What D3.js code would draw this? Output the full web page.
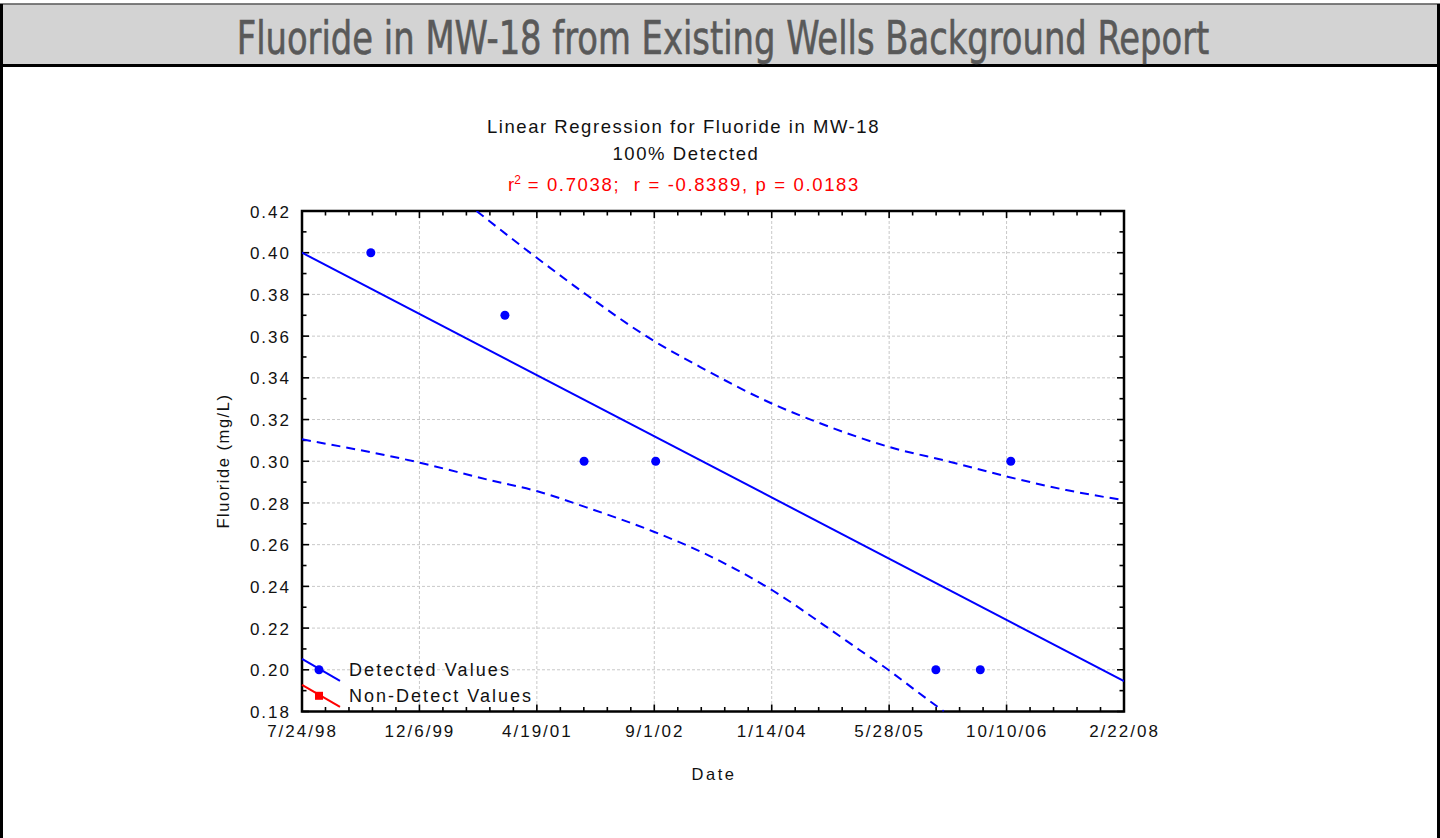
<!DOCTYPE html>
<html>
<head>
<meta charset="utf-8">
<script src="https://cdn.jsdelivr.net/npm/d3@7"></script>
<style>
  body { margin: 0; background: #fff; }
  svg text { font-family: "Liberation Sans", Arial, sans-serif; }
</style>
</head>
<body>
<div id="chart-area"></div>
<script>
// data
let sampleDates = ["5/13/99", "12/4/00", "11/6/01", "9/7/02", "12/13/05", "6/20/06", "10/28/06"];
let fluoride = [0.40, 0.37, 0.30, 0.30, 0.20, 0.20, 0.30];

// fitted line ends (date, mg/L)
let fitDates = ["7/24/98", "2/22/08"];
let fitValues = [0.400, 0.1946];

// confidence band, days after 7/24/98 and mg/L
let upperDays = [743, 984, 1197, 1481, 1694, 2006, 2190, 2505, 2757, 3004, 3254, 3495];
let upperValues = [0.420, 0.3989, 0.3810, 0.3589, 0.3453, 0.3274, 0.3189, 0.3067, 0.2998, 0.2926, 0.2862, 0.2814];
let lowerDays = [0, 502, 786, 999, 1211, 1498, 1708, 2006, 2233, 2374, 2502, 2601, 2733];
let lowerValues = [0.3105, 0.2993, 0.2913, 0.2857, 0.2779, 0.2662, 0.2561, 0.2379, 0.2206, 0.2095, 0.1995, 0.1911, 0.180];

let xTickLabels = ["7/24/98", "12/6/99", "4/19/01", "9/1/02", "1/14/04", "5/28/05", "10/10/06", "2/22/08"];
let yTicks = [0.18, 0.20, 0.22, 0.24, 0.26, 0.28, 0.30, 0.32, 0.34, 0.36, 0.38, 0.40, 0.42];

let legendLabels = ["Detected Values", "Non-Detect Values"];
let legendColors = ["#0000ff", "#ff0000"];

let parseDate = d3.utcParse("%m/%d/%y");
let fmtDate = d3.utcFormat("%-m/%-d/%y");
let startDate = parseDate(xTickLabels[0]);

let W = 1440, H = 838;
let margin = { left: 302, top: 211, right: 316, bottom: 126.5 };
let width = W - margin.left - margin.right;
let height = H - margin.top - margin.bottom;

// spread letters so a text takes the width seen in the reference
function fitWidth(sel, target){
	let w = sel.node().getComputedTextLength();
	let n = sel.text().length;
	sel.attr("letter-spacing", ((target - w) / n) + "px");
}

let svg = d3.select("#chart-area")
	.append("svg")
	.attr("width", W)
	.attr("height", H);

// page frame and heading bar
svg.append("rect")
	.attr("x", 1.5).attr("y", 5)
	.attr("width", W - 3).attr("height", H + 20)
	.attr("fill", "#fff")
	.attr("stroke", "#000")
	.attr("stroke-width", 3);

svg.append("rect")
	.attr("x", 1.5).attr("y", 4.5)
	.attr("width", W - 3).attr("height", 60)
	.attr("fill", "#d3d3d3");

svg.append("line")
	.attr("x1", 0).attr("x2", W)
	.attr("y1", 4.5).attr("y2", 4.5)
	.attr("stroke", "#777").attr("stroke-width", 1);

svg.append("line")
	.attr("x1", 0).attr("x2", W)
	.attr("y1", 65.5).attr("y2", 65.5)
	.attr("stroke", "#000").attr("stroke-width", 3);

svg.append("line")
	.attr("x1", 1.5).attr("x2", 1.5)
	.attr("y1", 4).attr("y2", H)
	.attr("stroke", "#000").attr("stroke-width", 3);
svg.append("line")
	.attr("x1", W - 1.5).attr("x2", W - 1.5)
	.attr("y1", 4).attr("y2", H)
	.attr("stroke", "#000").attr("stroke-width", 3);

let titleG = svg.append("g").attr("transform", "translate(723, 54)");
let title = titleG.append("text")
	.attr("text-anchor", "middle")
	.attr("font-size", "47px")
	.attr("fill", "#595959")
	.attr("stroke", "#595959")
	.attr("stroke-width", 0.6)
	.style("font-family", "'Liberation Sans Narrow', 'DejaVu Sans Condensed', sans-serif")
	.text("Fluoride in MW-18 from Existing Wells Background Report");
let titleW = title.node().getComputedTextLength();
title.attr("transform", "scale(" + (973 / titleW) + ", 1)");

// chart headings
let head1 = svg.append("text")
	.attr("x", 683.5).attr("y", 133)
	.attr("text-anchor", "middle")
	.attr("font-size", "18.5px")
	.attr("fill", "#111")
	.text("Linear Regression for Fluoride in MW-18");
fitWidth(head1, 393);

let head2 = svg.append("text")
	.attr("x", 686).attr("y", 160)
	.attr("text-anchor", "middle")
	.attr("font-size", "18.5px")
	.attr("fill", "#111")
	.text("100% Detected");
fitWidth(head2, 147);

let stats = svg.append("text")
	.attr("x", 508).attr("y", 191)
	.attr("font-size", "18.5px")
	.attr("fill", "#ff0000")
	.style("white-space", "pre");
stats.append("tspan").text("r");
stats.append("tspan").attr("font-size", "12px").attr("dy", -7.5).text("2");
let statsRest = stats.append("tspan").attr("dy", 7.5).text(" = 0.7038;  r = -0.8389, p = 0.0183");
let statsW = stats.node().getComputedTextLength();
statsRest.attr("letter-spacing", ((352 - statsW) / statsRest.text().length) + "px");

let g = svg.append("g")
	.attr("transform", `translate(${margin.left}, ${margin.top})`);

let xScale = d3.scaleUtc()
	.domain([parseDate(xTickLabels[0]), parseDate(xTickLabels[xTickLabels.length - 1])])
	.range([0, width]);

let yScale = d3.scaleLinear()
	.domain([yTicks[0], yTicks[yTicks.length - 1]])
	.range([height, 0]);

let xTickDates = xTickLabels.map(parseDate);
let xMinor = d3.range(0, 3501, 100).map(function(d){ return d3.utcDay.offset(startDate, d); });
let yMinor = d3.range(0, 25).map(function(i){ return yTicks[0] + i * 0.01; });

// grid
g.append("g").selectAll("line")
	.data(xTickDates)
	.enter().append("line")
	.attr("x1", function(d){ return xScale(d); })
	.attr("x2", function(d){ return xScale(d); })
	.attr("y1", 0).attr("y2", height)
	.attr("stroke", "#c8c8c8")
	.attr("stroke-dasharray", "3,2");

g.append("g").selectAll("line")
	.data(yTicks)
	.enter().append("line")
	.attr("y1", function(d){ return yScale(d); })
	.attr("y2", function(d){ return yScale(d); })
	.attr("x1", 0).attr("x2", width)
	.attr("stroke", "#c8c8c8")
	.attr("stroke-dasharray", "3,2");

// axes
let xAxisCall = d3.axisBottom(xScale)
	.tickValues(xTickDates)
	.tickFormat(fmtDate)
	.tickSize(0)
	.tickPadding(13);
let xAxis = g.append("g")
	.attr("transform", `translate(0, ${height})`)
	.call(xAxisCall);

let yAxisCall = d3.axisLeft(yScale)
	.tickValues(yTicks)
	.tickFormat(d3.format(".2f"))
	.tickSize(0)
	.tickPadding(11);
let yAxis = g.append("g").call(yAxisCall);

[xAxis, yAxis].forEach(function(a){
	a.select(".domain").remove();
	a.selectAll("text")
		.attr("font-size", "17px")
		.attr("font-family", "'Liberation Sans', Arial, sans-serif")
		.attr("letter-spacing", "2px")
		.attr("fill", "#111");
});
xAxis.selectAll("text").attr("dy", "0.71em");
yAxis.selectAll("text").attr("dy", "0.36em");

// inward ticks on all four sides
let tickG = g.append("g").attr("stroke", "#000").attr("stroke-width", 1.6);
xMinor.forEach(function(d, i){
	let len = (i % 5 === 0) ? 7 : 4.5;
	let x = xScale(d);
	tickG.append("line").attr("x1", x).attr("x2", x).attr("y1", height).attr("y2", height - len);
	tickG.append("line").attr("x1", x).attr("x2", x).attr("y1", 0).attr("y2", len);
});
yMinor.forEach(function(d, i){
	let len = (i % 2 === 0) ? 7 : 4.5;
	let y = yScale(d);
	tickG.append("line").attr("y1", y).attr("y2", y).attr("x1", 0).attr("x2", len);
	tickG.append("line").attr("y1", y).attr("y2", y).attr("x1", width).attr("x2", width - len);
});

g.append("rect")
	.attr("width", width).attr("height", height)
	.attr("fill", "none")
	.attr("stroke", "#000")
	.attr("stroke-width", 2.5);

// clip for lines
svg.append("defs").append("clipPath").attr("id", "plot-clip")
	.append("rect").attr("width", width).attr("height", height);

let plot = g.append("g").attr("clip-path", "url(#plot-clip)");

let line = d3.line()
	.x(function(d){ return xScale(d[0]); })
	.y(function(d){ return yScale(d[1]); })
	.curve(d3.curveMonotoneX);

let fit = fitDates.map(function(d, i){ return [parseDate(d), fitValues[i]]; });
let upper = upperDays.map(function(d, i){ return [d3.utcDay.offset(startDate, d), upperValues[i]]; });
let lower = lowerDays.map(function(d, i){ return [d3.utcDay.offset(startDate, d), lowerValues[i]]; });

plot.append("path")
	.attr("d", line(fit))
	.attr("fill", "none")
	.attr("stroke", "#0000ff")
	.attr("stroke-width", 2);

[upper, lower].forEach(function(band){
	plot.append("path")
		.attr("d", line(band))
		.attr("fill", "none")
		.attr("stroke", "#0000ff")
		.attr("stroke-width", 2)
		.attr("stroke-dasharray", "9,6");
});

plot.selectAll("circle")
	.data(sampleDates)
	.enter().append("circle")
	.attr("cx", function(d){ return xScale(parseDate(d)); })
	.attr("cy", function(d, i){ return yScale(fluoride[i]); })
	.attr("r", 4.5)
	.attr("fill", "#0000ff");

// legend
let legend = g.append("g")
	.attr("transform", `translate(0, ${yScale(0.20)})`);

legendLabels.forEach(function(label, i){
	let row = legend.append("g")
		.attr("transform", "translate(0, " + (i * 26) + ")");
	row.append("line")
		.attr("x1", 0).attr("y1", -11)
		.attr("x2", 38).attr("y2", 11)
		.attr("stroke", legendColors[i])
		.attr("stroke-width", 2);
	if (i === 0) {
		row.append("circle").attr("cx", 17).attr("cy", 0).attr("r", 4.5).attr("fill", legendColors[i]);
	} else {
		row.append("rect").attr("x", 13).attr("y", -4).attr("width", 8).attr("height", 8).attr("fill", legendColors[i]);
	}
	let t = row.append("text")
		.attr("x", 47).attr("y", 6.5)
		.attr("font-size", "18px")
		.attr("fill", "#111")
		.text(label);
	fitWidth(t, i === 0 ? 162 : 184);
});

// axis titles
let yLabel = g.append("text")
	.attr("text-anchor", "middle")
	.attr("transform", "rotate(-90)")
	.attr("x", -(461 - margin.top))
	.attr("y", 229 - margin.left)
	.attr("font-size", "16.5px")
	.attr("fill", "#111")
	.text("Fluoride (mg/L)");
fitWidth(yLabel, 135);

let xLabel = g.append("text")
	.attr("text-anchor", "middle")
	.attr("x", 714 - margin.left)
	.attr("y", 780 - margin.top)
	.attr("font-size", "16.5px")
	.attr("fill", "#111")
	.text("Date");
fitWidth(xLabel, 45);
</script>
</body>
</html>
